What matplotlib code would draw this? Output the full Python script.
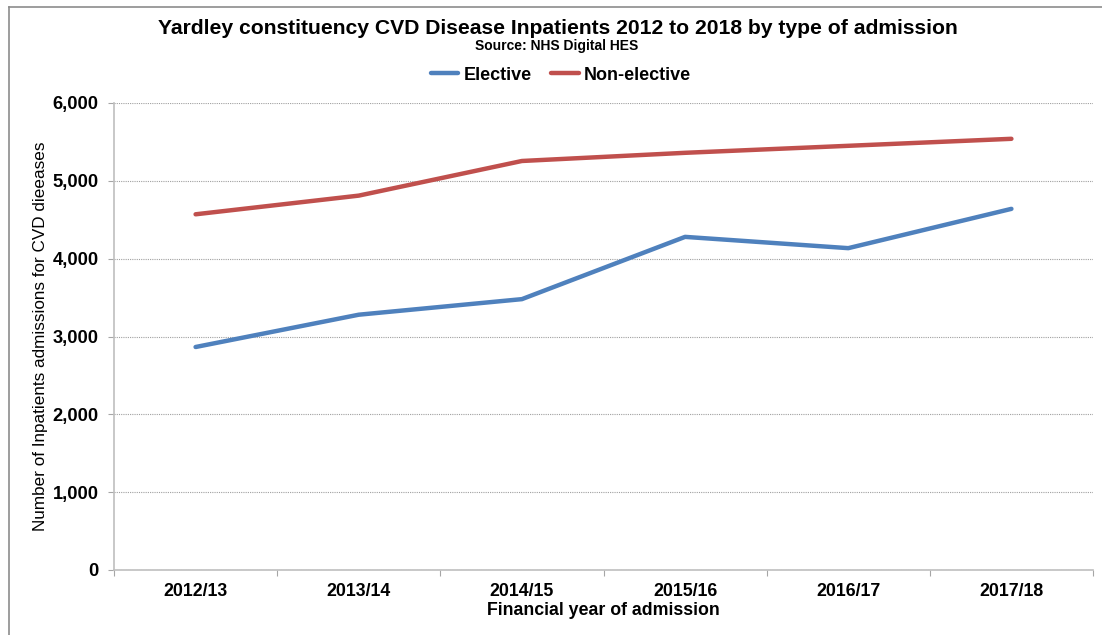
import numpy as np
import matplotlib.pyplot as plt
from matplotlib.lines import Line2D
from matplotlib.ticker import FuncFormatter

plt.rcParams['font.family'] = ['Liberation Sans', 'DejaVu Sans']

# dane - przyjęcia na oddział wg roku
lata = ['2012/13', '2013/14', '2014/15', '2015/16', '2016/17', '2017/18']
elective = [2865, 3280, 3480, 4280, 4135, 4640]
non_elective = [4570, 4810, 5255, 5360, 5450, 5540]

fig = plt.figure(figsize=(11.02, 6.35), dpi=100)
ax = fig.add_axes([114/1102, 1 - 570/635, (1093 - 114)/1102, (570 - 103)/635])

x = np.arange(len(lata))
ax.plot(x, elective, color='#4F81BD', lw=3.2, label='Elective', solid_capstyle='round')
ax.plot(x, non_elective, color='#C0504D', lw=3.2, label='Non-elective', solid_capstyle='round')

ax.set_xlim(-0.5, len(lata) - 0.5)
ax.set_ylim(0, 6000)
ax.set_yticks(range(0, 6001, 1000))
ax.yaxis.set_major_formatter(FuncFormatter(lambda v, p: f'{int(v):,}'))
ax.yaxis.grid(True, color='#A0A0A0', linestyle=(0, (1, 1)), lw=0.8)

# etykiety kategorii między podziałkami
ax.set_xticks(np.arange(-0.5, len(lata), 1))
ax.set_xticklabels([])
ax.set_xticks(x, minor=True)
ax.set_xticklabels(lata, minor=True, fontsize=12.8, fontweight='bold')
ax.tick_params(axis='x', which='minor', length=0, pad=9)
ax.tick_params(axis='x', which='major', length=4, color='#A6A6A6', direction='out')
ax.tick_params(axis='y', length=4, color='#A6A6A6', labelsize=13.2, pad=7)
for lab in ax.get_yticklabels():
    lab.set_fontweight('bold')

for s in ['top', 'right']:
    ax.spines[s].set_visible(False)
for s in ['left', 'bottom']:
    ax.spines[s].set_color('#BFBFBF')
    ax.spines[s].set_linewidth(1.2)

ax.set_xlabel('Financial year of admission', fontsize=12.8, fontweight='bold', labelpad=2)
ax.set_ylabel('Number of Inpatients admissions for CVD dieeases', fontsize=12.3, labelpad=3)

fig.text(558/1102, 1 - 28/635, 'Yardley constituency CVD Disease Inpatients 2012 to 2018 by type of admission',
         ha='center', va='center', fontsize=15.2, fontweight='bold')
fig.text(557/1102, 1 - 46/635, 'Source: NHS Digital HES', ha='center', va='center',
         fontsize=10, fontweight='bold')

fig.legend(handles=ax.get_lines(), loc='center', bbox_to_anchor=(561/1102, 1 - 75/635),
           ncol=2, frameon=False, prop={'weight': 'bold', 'size': 13},
           handlelength=1.5, handletextpad=0.3, columnspacing=1.1)

# ramka wykresu
fig.add_artist(Line2D([8.5/1102, 8.5/1102], [0, 1 - 6.5/635], transform=fig.transFigure,
                      color='#8C8C8C', lw=1.2))
fig.add_artist(Line2D([8.5/1102, 1], [1 - 6.5/635, 1 - 6.5/635], transform=fig.transFigure,
                      color='#8C8C8C', lw=1.2))

fig.savefig('out.png', dpi=100)
